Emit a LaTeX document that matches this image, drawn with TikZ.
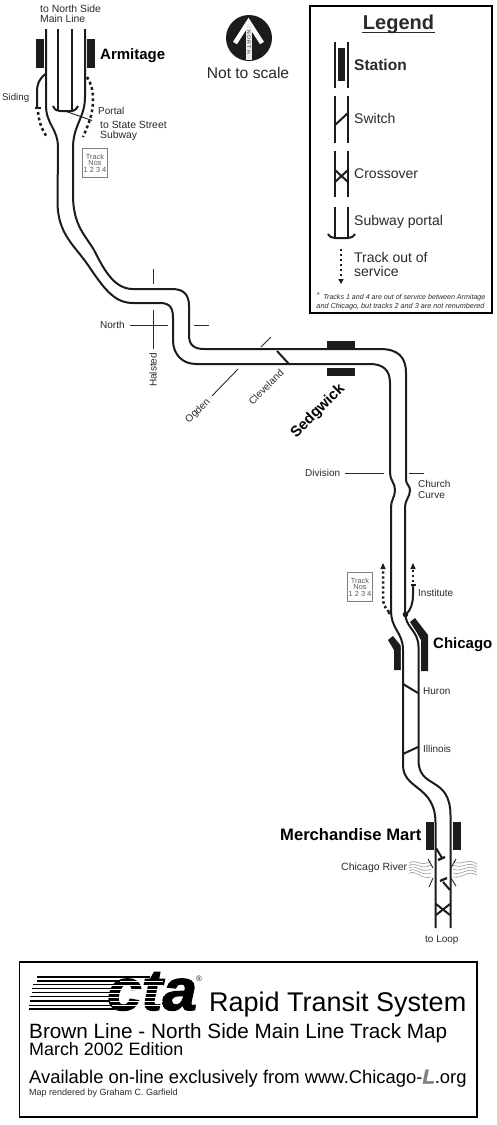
\documentclass[tikz,border=0pt]{standalone}
\usepackage{fontspec}
\setmainfont{Liberation Sans}
\newfontfamily\ctaf[FakeBold=2.2]{Liberation Sans Bold Italic}
\usetikzlibrary{arrows.meta}
\definecolor{ink}{HTML}{1C1C1C}
\definecolor{txt}{HTML}{2A2A2A}
\newcommand{\fs}[1]{\fontsize{#1}{#1}\selectfont}
\tikzset{
 x=1pt,y=-1pt,
 track/.style={draw=ink,line width=2pt,line join=round},
 halo/.style={draw=white,line width=4.2pt},
 thin street/.style={draw=txt,line width=0.9pt},
 oos/.style={draw=ink,line width=2.5pt,dash pattern=on 2.8pt off 2.8pt},
 station/.style={fill=ink,draw=none},
 lbl/.style={anchor=base west,inner sep=0pt,text=txt,font=\fs{10}},
 big/.style={anchor=base west,inner sep=0pt,text=black,font=\fs{15}\bfseries},
 leg/.style={anchor=base west,inner sep=0pt,text=txt,font=\fs{14}},
 river/.style={draw=gray!70,line width=0.7pt},
 tbox/.style={draw=gray,line width=1.1pt,fill=white,minimum width=25.5pt,minimum height=29.5pt,inner sep=0pt,align=center,text=gray!70!black,font=\fs{7.4}},
}
\begin{document}
\begin{tikzpicture}
\useasboundingbox (0,0) rectangle (497,1125);
\fill[white] (0,0) rectangle (497,1125);
% Chicago platforms, under the tracks
\fill[ink] (388,640) -- (393,636) -- (402,647) -- (402,670) -- (394,670) -- (394,650) -- cycle;
\fill[ink] (410,622) -- (415,618) -- (428,635) -- (428,671) -- (421,671) -- (421,640) -- cycle;
\draw[halo] (391,615) .. controls (391,630) and (403,632) .. (403,650) -- (403,672);
\draw[halo] (405,612) .. controls (405,628) and (418.5,630) .. (418.5,647) -- (418.5,672);
% ---- main tracks
\draw[track] (46,29) -- (46,105) .. controls (46,125) and (58,128) .. (58,148) -- (57.5,200)
  .. controls (57,235) and (75,245) .. (90,268) .. controls (105,290) and (115,303) .. (133,303)
  -- (160,303) .. controls (170,303) and (173,308) .. (173,318) -- (173,340)
  .. controls (173,355) and (183,364) .. (196,364) -- (370,364)
  .. controls (383,364) and (390,370) .. (390,383) -- (390,473)
  .. controls (390,480) and (395,483) .. (395,490) .. controls (395,497) and (391,500) .. (391,507)
  -- (391,610) .. controls (391,630) and (403,632) .. (403,650) -- (403,765)
  .. controls (403,790) and (435,785) .. (435.5,822) -- (435.5,928);
\draw[track] (85,29) -- (85,97) .. controls (85,118) and (73,125) .. (73,148) -- (73,195)
  .. controls (73,225) and (85,235) .. (94,250) .. controls (105,272) and (115,289) .. (133,289)
  -- (172,289) .. controls (184,289) and (189,295) .. (189,306) -- (189,335)
  .. controls (189,345) and (194,349) .. (204,349) -- (380,349)
  .. controls (398,349) and (406,357) .. (406,373) -- (406,480)
  .. controls (406,484) and (410,486) .. (410,490) .. controls (410,497) and (405,500) .. (405,507)
  -- (405,612) .. controls (405,628) and (418.5,630) .. (418.5,647) -- (418.5,760)
  .. controls (418.5,790) and (450,775) .. (450.5,815) -- (450.5,928);
% inner tracks and portal
\draw[track] (58,29) -- (58,111);
\draw[track] (72,29) -- (72,111);
\draw[track] (53,106) .. controls (55,110) and (57,111) .. (60,111) -- (70,111) .. controls (74,111) and (76,110) .. (78,106);
% Armitage
\node[station,minimum width=8pt,minimum height=29pt,inner sep=0pt] (armL) at (40,53.5) {};
\node[station,minimum width=8pt,minimum height=29pt,inner sep=0pt] (armR) at (91,53.5) {};
\draw[track] (45.5,74) .. controls (39,79) and (37,84) .. (37,92) -- (37,107);
\draw[track] (34.5,108) -- (41,108);
\draw[oos] (38,112) .. controls (39,122) and (42,130) .. (47,137);
\draw[oos] (87,77) .. controls (92,85) and (93,92) .. (93,100) .. controls (93,115) and (88,125) .. (83,137);
\draw[draw=ink,line width=0.9pt] (65,111) -- (92,120.5);
\node[tbox] (tb1) at (95,163) {Track\\[-0.8pt]Nos\\[-0.8pt]1 2 3 4};
\node[lbl,font=\fs{10.4}] (ns1) at (40,12.5) {to North Side};
\node[lbl,font=\fs{10.4}] (ns2) at (40,22.5) {Main Line};
\node[big] (arm) at (100,59) {Armitage};
\node[lbl,font=\fs{9.7}] (sid) at (2,100) {Siding};
\node[lbl] (por) at (98,114.5) {Portal};
\node[lbl,font=\fs{10.4}] (st1) at (100,128.5) {to State Street};
\node[lbl,font=\fs{10.4}] (st2) at (100,138) {Subway};
% compass
\fill[ink] (249,38) circle (23);
\draw[white,line width=4.6pt,line join=miter] (235,43) -- (248.5,22) -- (262,43);
\fill[gray!15] (245.5,24) rectangle (252,59.5);
\node[inner sep=0pt,rotate=-90,text=txt,font=\fs{5}] (nth) at (248.8,42) {N O R T H};
\node[lbl,anchor=base,font=\fs{15.6}] (nts) at (248,78) {Not to scale};
% legend
\draw[black,line width=2pt] (310,6) rectangle (491.5,312.5);
\node[inner sep=0pt,anchor=base,font=\fs{20}\bfseries,text=txt] (lg) at (398.5,29.5) {Legend};
\draw[txt,line width=1pt] (362,32) -- (435,32);
\draw[track] (335,42) -- (335,88); \draw[track] (348,42) -- (348,88);
\fill[ink] (337.5,48) rectangle (345,81);
\node[leg,font=\fs{15.5}\bfseries] (l1) at (354,70.5) {Station};
\draw[track] (335,96) -- (335,143); \draw[track] (348,96) -- (348,143);
\draw[track] (335,125) -- (348,113);
\node[leg] (l2) at (354,123) {Switch};
\draw[track] (335,151) -- (335,197); \draw[track] (348,151) -- (348,197);
\draw[track] (335,170) -- (348,182); \draw[track] (335,182) -- (348,170);
\node[leg] (l3) at (354,178) {Crossover};
\draw[track] (335,207) -- (335,238); \draw[track] (348,207) -- (348,238);
\draw[track] (328,234) .. controls (330,237) and (332,238) .. (335,238) -- (348,238) .. controls (351,238) and (353,237) .. (355,234);
\node[leg] (l4) at (354,225) {Subway portal};
\draw[oos,dash pattern=on 2.4pt off 2.6pt] (341,249) -- (341,280);
\fill[ink] (338.3,279) -- (343.7,279) -- (341,284) -- cycle;
\node[leg] (l5) at (354,262) {Track out of};
\node[leg] (l6) at (354,276) {service};
\node[lbl,anchor=base,font=\fs{7.1}\itshape] (fn1) at (401,299) {\raisebox{1.5pt}{*}\ \ Tracks 1 and 4 are out of service between Armitage};
\node[lbl,anchor=base,font=\fs{7.25}\itshape] (fn2) at (400.5,308) {and Chicago, but tracks 2 and 3 are not renumbered};
% streets
\draw[thin street] (130,325) -- (168,325);
\draw[thin street] (194,325) -- (209,325);
\draw[thin street] (153,269) -- (153,284);
\draw[thin street] (153,310) -- (153,349);
\node[lbl] (north) at (100,328.5) {North};
\node[lbl,anchor=center,rotate=90] (hal) at (153,370) {Halsted};
\draw[thin street] (238,369) -- (212,396);
\draw[thin street] (271,337) -- (261,347);
\draw[track] (277,351) -- (289,364);
\node[lbl,anchor=center,rotate=45] (ogd) at (198,411) {Ogden};
\node[lbl,anchor=center,rotate=45] (cle) at (266,387) {Cleveland};
\fill[ink] (327,341) rectangle (355,349);
\fill[ink] (327,368) rectangle (355,375.5);
\node[big,anchor=center,rotate=45] (sed) at (318,411) {Sedgwick};
\draw[thin street] (345,473) -- (384,473);
\draw[thin street] (409,473) -- (424,473);
\node[lbl] (div) at (305,476) {Division};
\node[lbl] (cc1) at (418,487.5) {Church};
\node[lbl] (cc2) at (418,498.5) {Curve};
% Institute
\draw[track] (405.5,615) .. controls (411,610) and (413,603) .. (413,595) -- (413,585);
\fill[ink] (405.5,614.5) circle (2.8);
\draw[track] (410.5,585) -- (416,585);
\draw[oos,dash pattern=on 2.4pt off 2.6pt] (413,582) -- (413,568);
\fill[ink] (410.3,569) -- (415.7,569) -- (413,563) -- cycle;
\draw[oos,dash pattern=on 2.4pt off 2.6pt] (389,612) .. controls (385,608) and (383,604) .. (383,598) -- (383,569);
\fill[ink] (380.3,569) -- (385.7,569) -- (383,563) -- cycle;
\fill[ink] (389,613) circle (1.5);
\node[tbox] (tb2) at (360,587) {Track\\[-0.8pt]Nos\\[-0.8pt]1 2 3 4};
\node[lbl] (ins) at (418,596) {Institute};
\node[big] (chi) at (433,648) {Chicago};
\draw[track] (403,684) -- (418,693);
\draw[track] (403,754) -- (418,747);
\node[lbl] (hur) at (423,694.5) {Huron};
\node[lbl] (ill) at (423,752.5) {Illinois};
% Merchandise Mart
\fill[ink] (426,822) rectangle (433.5,850);
\fill[ink] (453,822) rectangle (461,850);
\node[big,font=\fs{16.6}\bfseries] (mm) at (280,840) {Merchandise Mart};
\draw[track] (436,848) -- (442,858); \draw[track,line width=2.3pt] (438,860) -- (445,857);
\draw[track] (450,890) -- (443,882); \draw[track,line width=2.3pt] (440,881) -- (447,878);
\draw[track] (436,904) -- (450,915); \draw[track] (436,915) -- (450,904);
\foreach \k in {0,1,2,3,4}{
 \draw[river] (409,{863+\k*2.6}) .. controls (416,{858+\k*2.8}) and (421,{868+\k*3}) .. (431,{861+\k*4});
 \draw[river] (453,{861+\k*4}) .. controls (462,{867+\k*3}) and (468,{857+\k*3}) .. (477,{864+\k*2.8});
}
\draw[thin street] (428,859) -- (433,868); \draw[thin street] (433,878) -- (429,887);
\draw[thin street] (456,859) -- (451,868); \draw[thin street] (451,878) -- (456,886);
\node[lbl,font=\fs{10.5}] (riv) at (341,870.5) {Chicago River};
\node[lbl] (loop) at (425,942.5) {to Loop};
% title box
\draw[black,line width=1.4pt] (19.5,962) rectangle (477,1117);
\node[inner sep=0pt,anchor=base west,xscale=1.07,font=\ctaf\fs{58},text=black] (cta) at (107,1010) {cta};
\foreach \yy in {981,985,989,993,997,1001,1005}{\fill[white] (104,\yy) rectangle (163,\yy+1);}
\foreach \yy/\xs/\xe in {977/37/150,981/37/120,984.5/33/114,988.5/32/112,992.5/32/110,996.5/30/110,1001/30/110,1005.5/29/112,1009/29/115}{\draw[black,line width=1.1pt] (\xs,\yy) -- (\xe,\yy);}
\node[lbl,font=\fs{8},text=txt] (reg) at (196,981) {®};
\node[lbl,font=\fs{27},text=black] (t1) at (209,1011) {Rapid Transit System};
\node[lbl,font=\fs{20.7},text=black] (t2) at (29,1038) {Brown Line - North Side Main Line Track Map};
\node[lbl,font=\fs{17.9},text=black] (t3) at (29,1055) {March 2002 Edition};
\node[lbl,font=\fs{18.4},text=black] (t4) at (29,1083.5) {Available on-line exclusively from www.Chicago-{\color{gray}\ctaf\fs{20}L}.org};
\node[lbl,font=\fs{9},text=txt] (t5) at (29,1095) {Map rendered by Graham C. Garfield};
\end{tikzpicture}
\end{document}
